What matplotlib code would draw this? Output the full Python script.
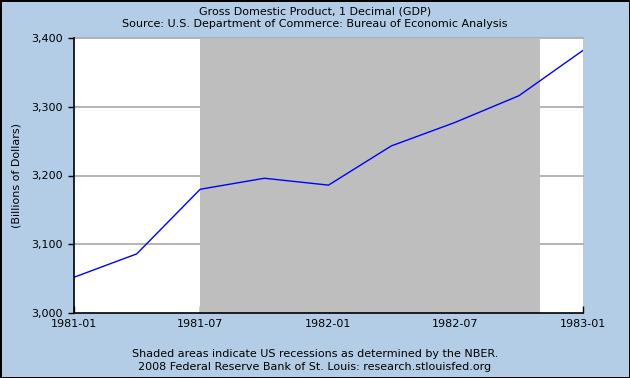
import datetime as dt
import matplotlib
matplotlib.use("Agg")
import matplotlib.pyplot as plt
import matplotlib.dates as mdates
from matplotlib.ticker import FuncFormatter

# quarterly GDP, billions of dollars
dates = [dt.date(1981, 1, 1), dt.date(1981, 4, 1), dt.date(1981, 7, 1),
         dt.date(1981, 10, 1), dt.date(1982, 1, 1), dt.date(1982, 4, 1),
         dt.date(1982, 7, 1), dt.date(1982, 10, 1), dt.date(1983, 1, 1)]
gdp = [3052, 3086, 3180, 3196, 3186, 3243, 3277, 3316, 3382]

recession = (dt.date(1981, 7, 1), dt.date(1982, 11, 1))
xticks = [dt.date(1981, 1, 1), dt.date(1981, 7, 1), dt.date(1982, 1, 1),
          dt.date(1982, 7, 1), dt.date(1983, 1, 1)]
yticks = [3000, 3100, 3200, 3300, 3400]

bg = "#B4CDE6"
fig = plt.figure(figsize=(6.3, 3.78), dpi=100, facecolor=bg)
fig.patch.set_edgecolor("black")
fig.patch.set_linewidth(2)
ax = fig.add_axes([74 / 630, 1 - 313 / 378, (583 - 74) / 630, (313 - 38) / 378])
ax.set_facecolor("white")

for v in yticks[1:]:
    ax.axhline(v, color="#A8A8A8", lw=1.2, zorder=1, clip_on=False)
ax.axvspan(recession[0], recession[1], color="#BEBEBE", lw=0, zorder=2)
ax.plot(dates, gdp, color="#0000FF", lw=1, zorder=3)

ax.set_xlim(dates[0], dates[-1])
ax.set_ylim(3000, 3400)
ax.set_xticks(xticks)
ax.xaxis.set_major_formatter(mdates.DateFormatter("%Y-%m"))
ax.set_yticks(yticks)
ax.yaxis.set_major_formatter(FuncFormatter(lambda v, p: f"{v:,.0f}"))
ax.tick_params(axis="x", direction="in", length=5, width=1, labelsize=8, pad=4)
ax.tick_params(axis="y", direction="out", length=4, width=1, labelsize=8, pad=4)
for s in ["top", "right"]:
    ax.spines[s].set_visible(False)
for s in ["left", "bottom"]:
    ax.spines[s].set_linewidth(1.2)
    ax.spines[s].set_zorder(4)

ax.set_ylabel("(Billions of Dollars)", fontsize=8)
ax.yaxis.set_label_coords(-(74 - 22) / 509, 0.5)

fig.text(0.5, 1 - 11 / 378, "Gross Domestic Product, 1 Decimal (GDP)",
         ha="center", va="center", fontsize=8)
fig.text(0.5, 1 - 24 / 378, "Source: U.S. Department of Commerce: Bureau of Economic Analysis",
         ha="center", va="center", fontsize=8)
fig.text(0.5, 1 - 354 / 378, "Shaded areas indicate US recessions as determined by the NBER.",
         ha="center", va="center", fontsize=8)
fig.text(0.5, 1 - 367 / 378, "2008 Federal Reserve Bank of St. Louis: research.stlouisfed.org",
         ha="center", va="center", fontsize=8)

fig.savefig("out.png", dpi=100, facecolor=bg, edgecolor="black")
